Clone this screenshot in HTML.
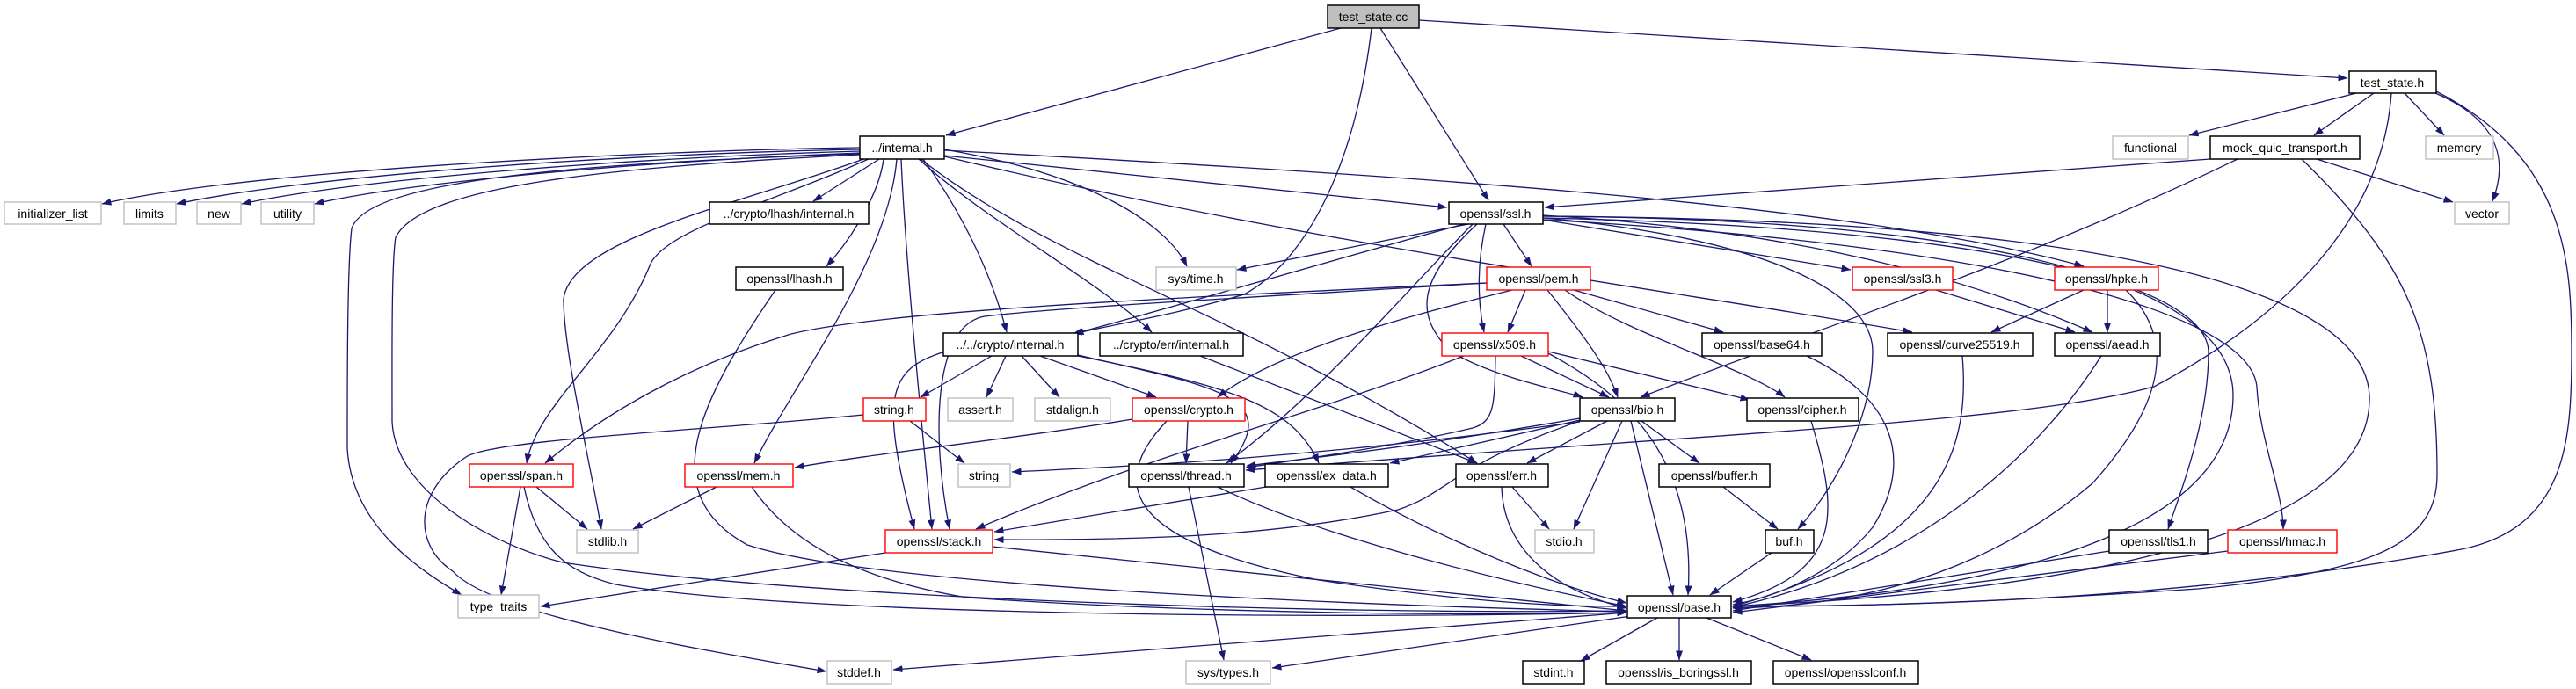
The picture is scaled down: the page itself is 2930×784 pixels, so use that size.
<!DOCTYPE html>
<html><head><meta charset="utf-8"><style>
html,body{margin:0;padding:0;background:#fff;}
svg{display:block;}
text{font-family:"Liberation Sans",sans-serif;font-size:14px;fill:#000;}
.e{fill:none;stroke:#191970;stroke-width:1.3;marker-end:url(#a);}
.n{fill:#fff;stroke:#000;stroke-width:1.5;}
.g{fill:#fff;stroke:#bfbfbf;stroke-width:1.4;}
.r{fill:#fff;stroke:#ff0000;stroke-width:1.4;}
</style></head><body>
<svg width="2930" height="784" viewBox="0 0 2930 784" xmlns="http://www.w3.org/2000/svg">
<defs><marker id="a" markerWidth="11" markerHeight="8" refX="10.5" refY="4" orient="auto" markerUnits="userSpaceOnUse"><path d="M0,0 L11,4 L0,8 z" fill="#191970"/></marker></defs>
<g>
<path class="e" d="M1525,32 L1076,154"/>
<path class="e" d="M1570,32 L1693,228"/>
<path class="e" d="M1614,23 L2670,89"/>
<path class="e" d="M1560,32 C1540,200 1480,300 1415,335 C1330,360 1260,370 1222,380"/>
<path class="e" d="M2680,106 L2490,154"/>
<path class="e" d="M2700,106 L2632,154"/>
<path class="e" d="M2735,106 L2780,154"/>
<path class="e" d="M2770,106 C2850,140 2850,190 2835,229"/>
<path class="e" d="M2771,104 C2920,180 2925,300 2925,400 C2925,500 2920,600 2800,625 C2500,680 2200,690 1971,690"/>
<path class="e" d="M2720,106 C2710,250 2600,360 2450,440 C2300,480 2000,490 1417,535"/>
<path class="e" d="M2514,181 L1757,236"/>
<path class="e" d="M2635,181 L2790,230"/>
<path class="e" d="M2545,181 C2300,300 2050,380 1866,452"/>
<path class="e" d="M2618,181 C2740,300 2772,380 2772,540 C2772,620 2700,650 2500,670 C2200,690 2050,690 1971,690"/>
<path class="e" d="M978,168 C800,170 300,190 116,232"/>
<path class="e" d="M978,170 C700,175 350,200 201,232"/>
<path class="e" d="M978,172 C700,180 400,205 275,232"/>
<path class="e" d="M978,174 C700,185 450,210 358,232"/>
<path class="e" d="M978,175 C700,185 420,200 400,260 C395,300 395,430 395,510 C400,600 480,650 525,677"/>
<path class="e" d="M978,176 C700,190 480,210 450,270 C445,300 446,420 446,480 C450,560 560,620 640,640 C900,680 1500,700 1850,695"/>
<path class="e" d="M985,180 C850,230 650,270 641,340 C641,400 670,520 684,602"/>
<path class="e" d="M990,180 C880,230 760,260 740,300 C700,400 610,460 599,527"/>
<path class="e" d="M1000,181 L925,229"/>
<path class="e" d="M1005,181 C1000,220 970,270 940,303"/>
<path class="e" d="M1020,181 C1010,300 900,440 858,527"/>
<path class="e" d="M1025,181 C1030,300 1050,500 1060,602"/>
<path class="e" d="M1050,181 C1100,250 1130,320 1145,378"/>
<path class="e" d="M1045,181 C1120,250 1250,320 1310,378"/>
<path class="e" d="M1074,170 C1250,200 1330,260 1350,303"/>
<path class="e" d="M1074,177 L1646,236"/>
<path class="e" d="M1047,181 C1200,300 1400,350 1680,527"/>
<path class="e" d="M1074,171 C1600,200 2100,230 2370,303"/>
<path class="e" d="M1074,178 C1500,280 1900,330 2175,378"/>
<path class="e" d="M1670,255 L1407,307"/>
<path class="e" d="M1665,255 C1500,300 1300,360 1220,380"/>
<path class="e" d="M1710,255 L1742,303"/>
<path class="e" d="M1690,255 C1680,300 1680,340 1688,378"/>
<path class="e" d="M1680,255 C1610,320 1610,360 1650,400 C1700,430 1780,445 1800,452"/>
<path class="e" d="M1675,255 C1600,330 1500,450 1395,527"/>
<path class="e" d="M1755,250 L2105,307"/>
<path class="e" d="M1755,245 C2000,260 2200,300 2380,378"/>
<path class="e" d="M1755,248 C2000,270 2130,330 2130,400 C2130,460 2100,540 2045,602"/>
<path class="e" d="M1755,246 C2300,250 2540,330 2540,450 C2540,600 2300,670 1971,690"/>
<path class="e" d="M1755,246 C2400,250 2690,330 2695,450 C2700,600 2400,670 1971,690"/>
<path class="e" d="M1755,248 C2300,260 2510,330 2512,400 C2512,480 2480,560 2466,602"/>
<path class="e" d="M1755,250 C2300,280 2560,360 2567,440 C2570,500 2597,560 2597,602"/>
<path class="e" d="M1735,330 L1715,378"/>
<path class="e" d="M1760,330 C1800,380 1830,420 1840,452"/>
<path class="e" d="M1790,330 L1960,378"/>
<path class="e" d="M1780,330 C1850,380 1990,420 2030,452"/>
<path class="e" d="M1720,330 C1600,360 1450,400 1385,452"/>
<path class="e" d="M1691,322 C1400,340 1200,350 1120,360 C1060,370 1060,500 1080,602"/>
<path class="e" d="M1691,322 C1300,340 1000,355 900,380 C800,410 700,460 620,527"/>
<path class="e" d="M1730,405 L1830,452"/>
<path class="e" d="M1761,400 L1990,455"/>
<path class="e" d="M1701,405 C1700,460 1700,480 1675,487 C1600,505 1500,520 1417,532"/>
<path class="e" d="M1665,405 C1500,470 1300,520 1110,602"/>
<path class="e" d="M1761,402 C1850,450 1930,520 1920,677"/>
<path class="e" d="M1128,405 L1047,452"/>
<path class="e" d="M1144,405 L1122,452"/>
<path class="e" d="M1162,405 L1205,452"/>
<path class="e" d="M1183,405 L1315,452"/>
<path class="e" d="M1075,400 C1010,420 1000,450 1040,602"/>
<path class="e" d="M1226,404 C1380,440 1460,450 1400,527"/>
<path class="e" d="M1226,405 C1400,440 1470,460 1500,527"/>
<path class="e" d="M1365,405 L1680,527"/>
<path class="e" d="M1035,479 L1097,527"/>
<path class="e" d="M982,472 C800,490 560,500 530,520 C470,560 470,620 515,650 C560,700 800,740 940,764"/>
<path class="e" d="M1351,479 L1349,527"/>
<path class="e" d="M1288,477 C1150,500 1000,515 904,532"/>
<path class="e" d="M1327,479 C1250,560 1300,620 1500,660 C1700,690 1800,690 1850,690"/>
<path class="e" d="M1797,476 C1600,510 1500,520 1418,530"/>
<path class="e" d="M1797,478 L1581,527"/>
<path class="e" d="M1828,479 L1737,527"/>
<path class="e" d="M1845,479 L1790,602"/>
<path class="e" d="M1855,479 L1903,677"/>
<path class="e" d="M1867,479 L1933,527"/>
<path class="e" d="M1797,480 C1500,520 1300,530 1151,537"/>
<path class="e" d="M1797,479 C1650,530 1650,560 1590,580 C1450,610 1300,615 1131,614"/>
<path class="e" d="M1385,554 C1500,610 1700,660 1850,690"/>
<path class="e" d="M1352,554 L1392,751"/>
<path class="e" d="M1440,554 L1131,605"/>
<path class="e" d="M1536,554 C1650,620 1780,670 1850,686"/>
<path class="e" d="M1720,554 L1762,602"/>
<path class="e" d="M1708,554 C1710,620 1760,670 1850,692"/>
<path class="e" d="M1960,554 L2022,602"/>
<path class="e" d="M2015,629 L1945,677"/>
<path class="e" d="M2060,479 C2090,580 2100,650 1971,685"/>
<path class="e" d="M2055,405 C2150,450 2180,520 2130,600 C2090,650 2020,680 1971,688"/>
<path class="e" d="M2232,405 C2240,500 2220,620 1971,690"/>
<path class="e" d="M2390,405 C2330,500 2200,640 1971,691"/>
<path class="e" d="M2202,330 L2360,378"/>
<path class="e" d="M2370,330 L2265,378"/>
<path class="e" d="M2397,330 L2397,378"/>
<path class="e" d="M2418,330 C2470,380 2470,450 2380,550 C2250,660 2100,690 1971,692"/>
<path class="e" d="M2399,627 L1971,695"/>
<path class="e" d="M2534,627 L1971,697"/>
<path class="e" d="M1129,622 C1400,650 1700,680 1850,695"/>
<path class="e" d="M1007,629 L615,690"/>
<path class="e" d="M610,554 L668,602"/>
<path class="e" d="M592,554 L570,677"/>
<path class="e" d="M596,554 C610,620 640,650 700,665 C900,700 1500,705 1850,697"/>
<path class="e" d="M815,554 L720,602"/>
<path class="e" d="M855,554 C900,620 980,660 1100,680 C1400,700 1700,700 1850,697"/>
<path class="e" d="M882,330 C800,450 740,560 850,620 C1000,670 1600,690 1850,696"/>
<path class="e" d="M1851,697 L1016,762"/>
<path class="e" d="M1855,701 L1447,760"/>
<path class="e" d="M1885,703 L1798,752"/>
<path class="e" d="M1910,703 L1910,751"/>
<path class="e" d="M1941,703 L2060,751"/>
</g>
<g>
<rect x="1510" y="6" width="104" height="26" fill="#bfbfbf" stroke="#000" stroke-width="1.5"/><text x="1562" y="24" text-anchor="middle">test_state.cc</text>
<rect class="n" x="978" y="155" width="96" height="26"/><text x="1026" y="173" text-anchor="middle">../internal.h</text>
<rect class="n" x="2672" y="81" width="99" height="25"/><text x="2721" y="99" text-anchor="middle">test_state.h</text>
<rect class="n" x="1648" y="230" width="107" height="25"/><text x="1701" y="248" text-anchor="middle">openssl/ssl.h</text>
<rect class="n" x="807" y="230" width="181" height="25"/><text x="897" y="248" text-anchor="middle">../crypto/lhash/internal.h</text>
<rect class="n" x="837" y="304" width="122" height="26"/><text x="898" y="322" text-anchor="middle">openssl/lhash.h</text>
<rect class="g" x="5" y="230" width="110" height="25"/><text x="60" y="248" text-anchor="middle">initializer_list</text>
<rect class="g" x="141" y="230" width="59" height="25"/><text x="170" y="248" text-anchor="middle">limits</text>
<rect class="g" x="224" y="230" width="50" height="25"/><text x="249" y="248" text-anchor="middle">new</text>
<rect class="g" x="297" y="230" width="60" height="25"/><text x="327" y="248" text-anchor="middle">utility</text>
<rect class="g" x="2403" y="155" width="86" height="26"/><text x="2446" y="173" text-anchor="middle">functional</text>
<rect class="n" x="2514" y="155" width="170" height="26"/><text x="2599" y="173" text-anchor="middle">mock_quic_transport.h</text>
<rect class="g" x="2759" y="155" width="77" height="26"/><text x="2797" y="173" text-anchor="middle">memory</text>
<rect class="g" x="2792" y="230" width="62" height="25"/><text x="2823" y="248" text-anchor="middle">vector</text>
<rect class="g" x="1315" y="304" width="91" height="26"/><text x="1360" y="322" text-anchor="middle">sys/time.h</text>
<rect class="r" x="1691" y="304" width="118" height="26"/><text x="1750" y="322" text-anchor="middle">openssl/pem.h</text>
<rect class="r" x="2107" y="304" width="114" height="26"/><text x="2164" y="322" text-anchor="middle">openssl/ssl3.h</text>
<rect class="r" x="2337" y="304" width="118" height="26"/><text x="2396" y="322" text-anchor="middle">openssl/hpke.h</text>
<rect class="n" x="1073" y="379" width="153" height="26"/><text x="1149" y="397" text-anchor="middle">../../crypto/internal.h</text>
<rect class="n" x="1251" y="379" width="163" height="26"/><text x="1332" y="397" text-anchor="middle">../crypto/err/internal.h</text>
<rect class="r" x="1640" y="379" width="121" height="26"/><text x="1700" y="397" text-anchor="middle">openssl/x509.h</text>
<rect class="n" x="1936" y="379" width="136" height="26"/><text x="2004" y="397" text-anchor="middle">openssl/base64.h</text>
<rect class="n" x="2147" y="379" width="165" height="26"/><text x="2229" y="397" text-anchor="middle">openssl/curve25519.h</text>
<rect class="n" x="2337" y="379" width="120" height="26"/><text x="2397" y="397" text-anchor="middle">openssl/aead.h</text>
<rect class="r" x="982" y="453" width="71" height="26"/><text x="1017" y="471" text-anchor="middle">string.h</text>
<rect class="g" x="1078" y="453" width="74" height="26"/><text x="1115" y="471" text-anchor="middle">assert.h</text>
<rect class="g" x="1177" y="453" width="86" height="26"/><text x="1220" y="471" text-anchor="middle">stdalign.h</text>
<rect class="r" x="1288" y="453" width="128" height="26"/><text x="1352" y="471" text-anchor="middle">openssl/crypto.h</text>
<rect class="n" x="1797" y="453" width="108" height="26"/><text x="1851" y="471" text-anchor="middle">openssl/bio.h</text>
<rect class="n" x="1987" y="453" width="127" height="26"/><text x="2050" y="471" text-anchor="middle">openssl/cipher.h</text>
<rect class="r" x="534" y="528" width="118" height="26"/><text x="593" y="546" text-anchor="middle">openssl/span.h</text>
<rect class="r" x="779" y="528" width="123" height="26"/><text x="840" y="546" text-anchor="middle">openssl/mem.h</text>
<rect class="g" x="1090" y="528" width="59" height="26"/><text x="1119" y="546" text-anchor="middle">string</text>
<rect class="n" x="1284" y="528" width="131" height="26"/><text x="1349" y="546" text-anchor="middle">openssl/thread.h</text>
<rect class="n" x="1439" y="528" width="140" height="26"/><text x="1509" y="546" text-anchor="middle">openssl/ex_data.h</text>
<rect class="n" x="1656" y="528" width="105" height="26"/><text x="1708" y="546" text-anchor="middle">openssl/err.h</text>
<rect class="n" x="1887" y="528" width="126" height="26"/><text x="1950" y="546" text-anchor="middle">openssl/buffer.h</text>
<rect class="g" x="656" y="603" width="70" height="26"/><text x="691" y="621" text-anchor="middle">stdlib.h</text>
<rect class="r" x="1007" y="603" width="122" height="26"/><text x="1068" y="621" text-anchor="middle">openssl/stack.h</text>
<rect class="g" x="1746" y="603" width="67" height="26"/><text x="1779" y="621" text-anchor="middle">stdio.h</text>
<rect class="n" x="2008" y="603" width="55" height="26"/><text x="2035" y="621" text-anchor="middle">buf.h</text>
<rect class="n" x="2399" y="603" width="112" height="26"/><text x="2455" y="621" text-anchor="middle">openssl/tls1.h</text>
<rect class="r" x="2534" y="603" width="124" height="26"/><text x="2596" y="621" text-anchor="middle">openssl/hmac.h</text>
<rect class="g" x="521" y="677" width="92" height="26"/><text x="567" y="695" text-anchor="middle">type_traits</text>
<rect class="n" x="1851" y="678" width="118" height="25"/><text x="1910" y="696" text-anchor="middle">openssl/base.h</text>
<rect class="g" x="941" y="752" width="73" height="26"/><text x="977" y="770" text-anchor="middle">stddef.h</text>
<rect class="g" x="1349" y="752" width="96" height="26"/><text x="1397" y="770" text-anchor="middle">sys/types.h</text>
<rect class="n" x="1732" y="752" width="70" height="26"/><text x="1767" y="770" text-anchor="middle">stdint.h</text>
<rect class="n" x="1827" y="752" width="165" height="26"/><text x="1909" y="770" text-anchor="middle">openssl/is_boringssl.h</text>
<rect class="n" x="2017" y="752" width="165" height="26"/><text x="2099" y="770" text-anchor="middle">openssl/opensslconf.h</text>
</g>
</svg>
</body></html>
